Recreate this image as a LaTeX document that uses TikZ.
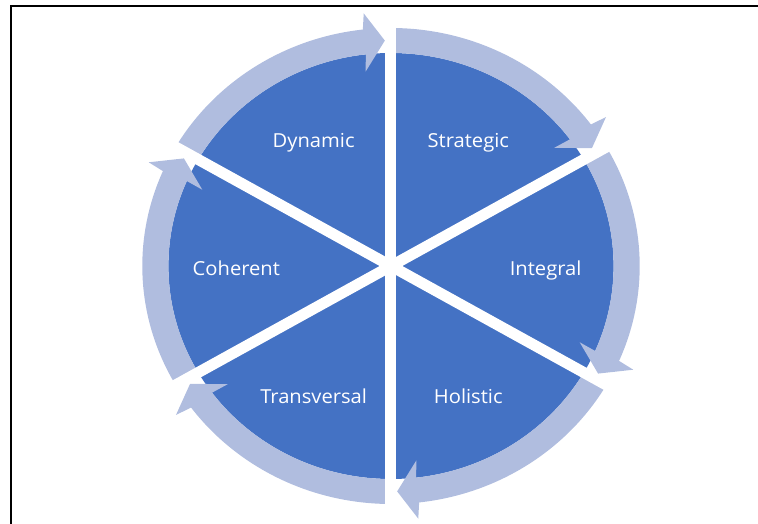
\documentclass[tikz,border=0pt]{standalone}
\usepackage{fontspec}
\setmainfont{Open Sans}[FakeStretch=1.045]
\definecolor{segblue}{RGB}{68,114,196}
\definecolor{ringblue}{RGB}{176,189,223}
\begin{document}
\begin{tikzpicture}[x=1pt,y=1pt,
  lbl/.style={text=white,font=\fontsize{19.3}{22}\selectfont,inner sep=0pt,
    text height=13.8pt,text depth=0pt,anchor=center,yshift=-2.5pt},
  gapline/.style={white,line width=11pt},
  framestroke/.style={black,line width=2pt}]
\useasboundingbox (-391,-258) rectangle (367,266);
% frame (top and left edges)
\coordinate (fbl) at (-380,-262);
\coordinate (ftl) at (-380,259.5);
\coordinate (ftr) at (370,259.5);
\draw[framestroke] (fbl) -- (ftl) -- (ftr);
\begin{scope}[xscale=1.045]
  % pie
  \fill[segblue] (0,0) circle (213);
  % circular arrows
  \foreach \a in {90,30,-30,-90,-150,150}{
    \pgfmathsetmacro\s{\a+60}
    \pgfmathsetmacro\h{\a+6.5}
    \pgfmathsetmacro\ho{\a+5.9}
    \pgfmathsetmacro\hi{\a+7.1}
    \pgfmathsetmacro\t{\a+1.5}
    \fill[ringblue] (\s:238) arc[start angle=\s, end angle=\h, radius=238]
      -- (\ho:254) -- (\t:225.5) -- (\hi:196) -- (\h:213)
      arc[start angle=\h, end angle=\s, radius=213] -- cycle;
  }
  % white gaps
  \foreach \a in {90,30,-30}{
    \draw[gapline] (\a:246) -- (\a+180:246);
  }
  % labels
  \node[lbl] (strategic)   at (60:148)  {Strategic};
  \node[lbl] (dynamic)     at (120:148) {Dynamic};
  \node[lbl] (integral)    at (0:148)   {Integral};
  \node[lbl] (coherent)    at (180:148) {Coherent};
  \node[lbl] (holistic)    at (300:148) {Holistic};
  \node[lbl] (transversal) at (240:148) {Transversal};
\end{scope}
\end{tikzpicture}
\end{document}
